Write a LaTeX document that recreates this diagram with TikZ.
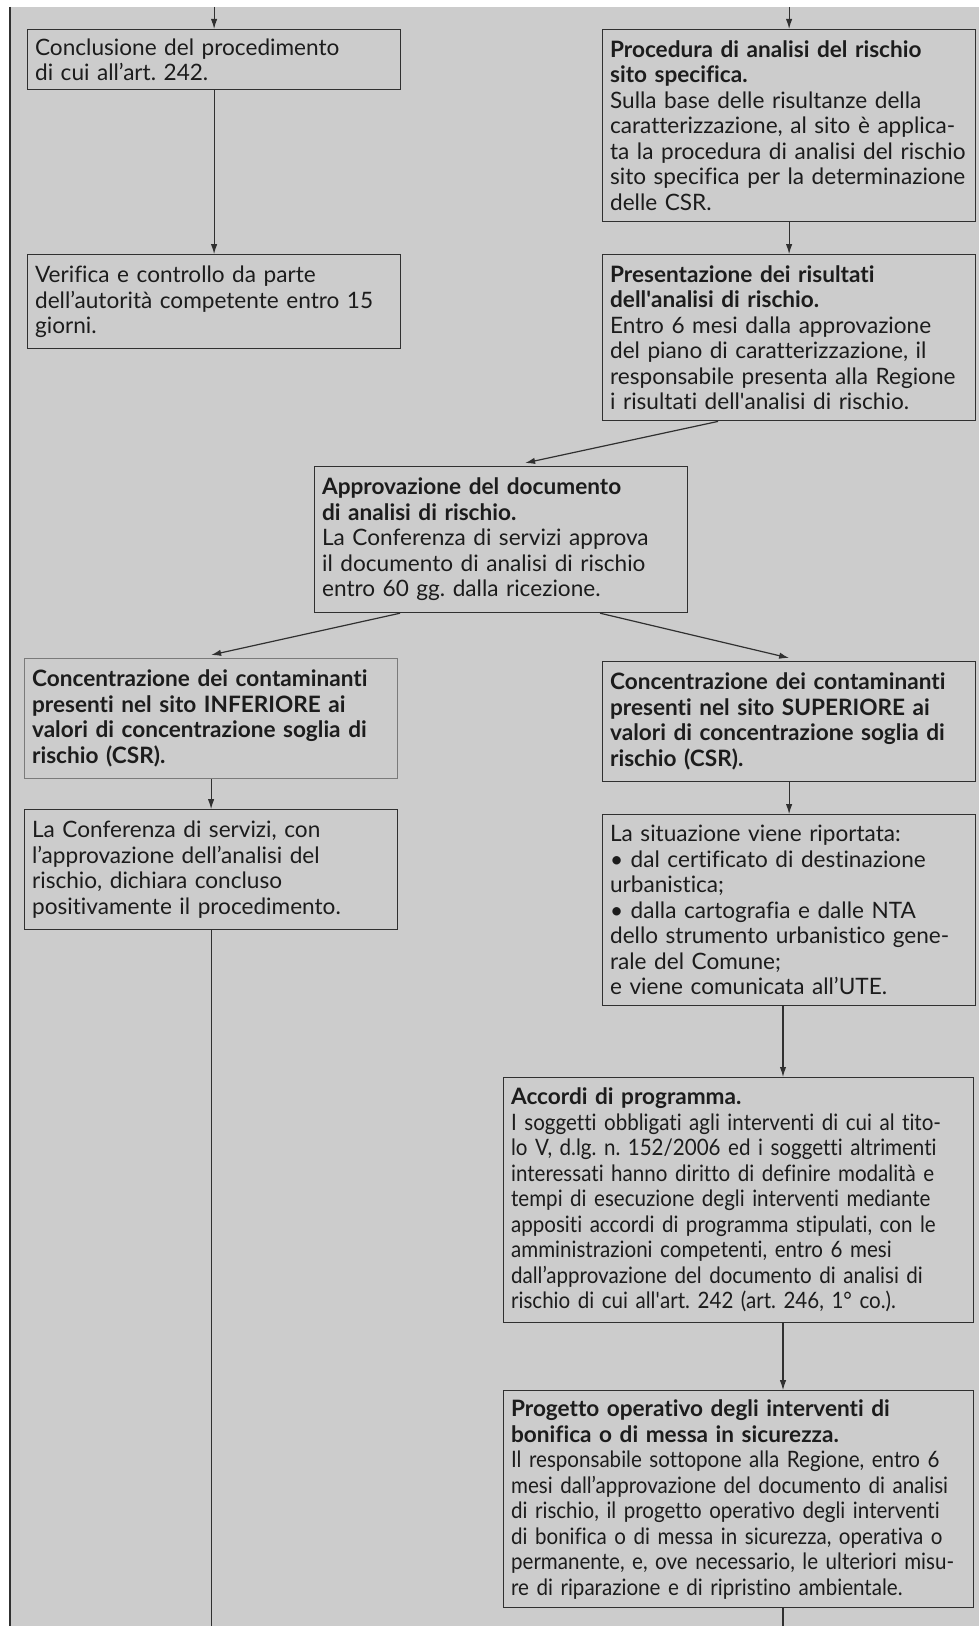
\documentclass[tikz,border=0pt]{standalone}
\usepackage{fontspec}
\setmainfont{Lato}[Ligatures={TeX,NoCommon}]
\newfontfamily\stretta{Lato}[FakeStretch=0.91, Ligatures={TeX,NoCommon}]
\usetikzlibrary{arrows.meta,positioning}
\definecolor{sfondo}{HTML}{CCCCCC}
\definecolor{bordo}{HTML}{303030}
\definecolor{bordochiaro}{HTML}{7A7A7A}
\definecolor{testo}{HTML}{1C1C1C}
\newcommand{\apo}{\textquotesingle}
\frenchspacing

\begin{document}
\begin{tikzpicture}[
  node distance=16pt,
  box/.style={draw=bordo, line width=0.6pt, align=left, text width=179pt,
              inner xsep=3.75pt, inner ysep=3pt, text=testo,
              font=\fontsize{11.3}{12.75}\selectfont},
  widebox/.style={box, text width=227.5pt},
  arr/.style={-{Latex[length=5pt,width=3.2pt]}, line width=0.6pt, draw=bordo},
  lin/.style={line width=0.6pt, draw=bordo}
]
\useasboundingbox (0,0) rectangle (489.5pt,-813pt);
\fill[sfondo] (5pt,-3.5pt) rectangle (489.5pt,-813pt);
\draw[bordo, line width=0.7pt] (5pt,-3.5pt) -- (5pt,-813pt);

\node[box, anchor=north west, minimum height=30pt] (conclusione) at (13.5pt,-14.5pt)
  {Conclusione del procedimento\\di cui all’art. 242.};
\node[box, below=82pt of conclusione, minimum height=47pt] (verifica)
  {Verifica e controllo da parte\\dell’autorità competente entro 15\\giorni.};

\node[box, anchor=north west, minimum height=96pt] (procedura) at (301pt,-14.5pt)
  {{\bfseries Procedura di analisi del rischio\\sito specifica.}\\Sulla base delle risultanze della\\caratterizzazione, al sito è applica-\\ta la procedura di analisi del rischio\\sito specifica per la determinazione\\delle CSR.};
\node[box, below=16pt of procedura, minimum height=83pt] (risultati)
  {{\bfseries Presentazione dei risultati\\dell\apo analisi di rischio.}\\Entro 6 mesi dalla approvazione\\del piano di caratterizzazione, il\\responsabile presenta alla Regione\\i risultati dell\apo analisi di rischio.};

\node[box, anchor=north west, minimum height=73pt] (approvazione) at (157pt,-233pt)
  {{\bfseries Approvazione del documento\\di analisi di rischio.}\\La Conferenza di servizi approva\\il documento di analisi di rischio\\entro 60 gg. dalla ricezione.};

\node[box, draw=bordochiaro, anchor=north west, minimum height=60pt, font=\fontsize{11.3}{12.75}\selectfont\bfseries] (inferiore) at (12pt,-329pt)
  {Concentrazione dei contaminanti\\presenti nel sito INFERIORE ai\\valori di concentrazione soglia di\\rischio (CSR).};
\node[box, below=15pt of inferiore, minimum height=60pt] (chiusura)
  {La Conferenza di servizi, con\\l’approvazione dell’analisi del\\rischio, dichiara concluso\\positivamente il procedimento.};

\node[box, anchor=north west, minimum height=60pt, font=\fontsize{11.3}{12.75}\selectfont\bfseries] (superiore) at (301pt,-330.5pt)
  {Concentrazione dei contaminanti\\presenti nel sito SUPERIORE ai\\valori di concentrazione soglia di\\rischio (CSR).};
\node[box, below=16pt of superiore, minimum height=95.5pt] (situazione)
  {La situazione viene riportata:\\• dal certificato di destinazione\\urbanistica;\\• dalla cartografia e dalle NTA\\dello strumento urbanistico gene-\\rale del Comune;\\e viene comunicata all’UTE.};

\node[widebox, anchor=north west, minimum height=122.5pt] (accordi) at (251.5pt,-538.5pt)
  {{\bfseries Accordi di programma.}\\\stretta I soggetti obbligati agli interventi di cui al tito-\\lo V, d.lg. n. 152/2006 ed i soggetti altrimenti\\interessati hanno diritto di definire modalità e\\tempi di esecuzione degli interventi mediante\\appositi accordi di programma stipulati, con le\\amministrazioni competenti, entro 6 mesi\\dall’approvazione del documento di analisi di\\rischio di cui all\apo art. 242 (art. 246, 1° co.).};
\node[widebox, below=33.5pt of accordi, minimum height=108.5pt] (progetto)
  {{\bfseries Progetto operativo degli interventi di\\bonifica o di messa in sicurezza.}\\\stretta Il responsabile sottopone alla Regione, entro 6\\mesi dall’approvazione del documento di analisi\\di rischio, il progetto operativo degli interventi\\di bonifica o di messa in sicurezza, operativa o\\permanente, e, ove necessario, le ulteriori misu-\\re di riparazione e di ripristino ambientale.};

\coordinate (inizioL) at (conclusione.north |- 0,-3.5pt);
\coordinate (inizioR) at (procedura.north |- 0,-3.5pt);
\coordinate (fineL) at (chiusura.south |- 0,-813pt);
\coordinate (asse) at (391.5pt,0);
\coordinate (fineR) at (asse |- 0,-813pt);

\draw[arr] (inizioL) -- (conclusione.north);
\draw[arr] (inizioR) -- (procedura.north);
\draw[arr] (conclusione) -- (verifica);
\draw[arr] (procedura) -- (risultati);
\draw[arr] ([xshift=-35.5pt]risultati.south) -- ([xshift=12pt,yshift=1.5pt]approvazione.north);
\draw[arr] ([xshift=-50.5pt]approvazione.south) -- ([yshift=1.5pt]inferiore.north);
\draw[arr] ([xshift=49.5pt]approvazione.south) -- ([yshift=1.5pt]superiore.north);
\draw[arr] (inferiore) -- (chiusura);
\draw[lin] (chiusura.south) -- (fineL);
\draw[arr] (superiore) -- (situazione);
\draw[arr] (asse |- situazione.south) -- (asse |- accordi.north);
\draw[arr] (asse |- accordi.south) -- (asse |- progetto.north);
\draw[lin] (asse |- progetto.south) -- (fineR);
\end{tikzpicture}
\end{document}
